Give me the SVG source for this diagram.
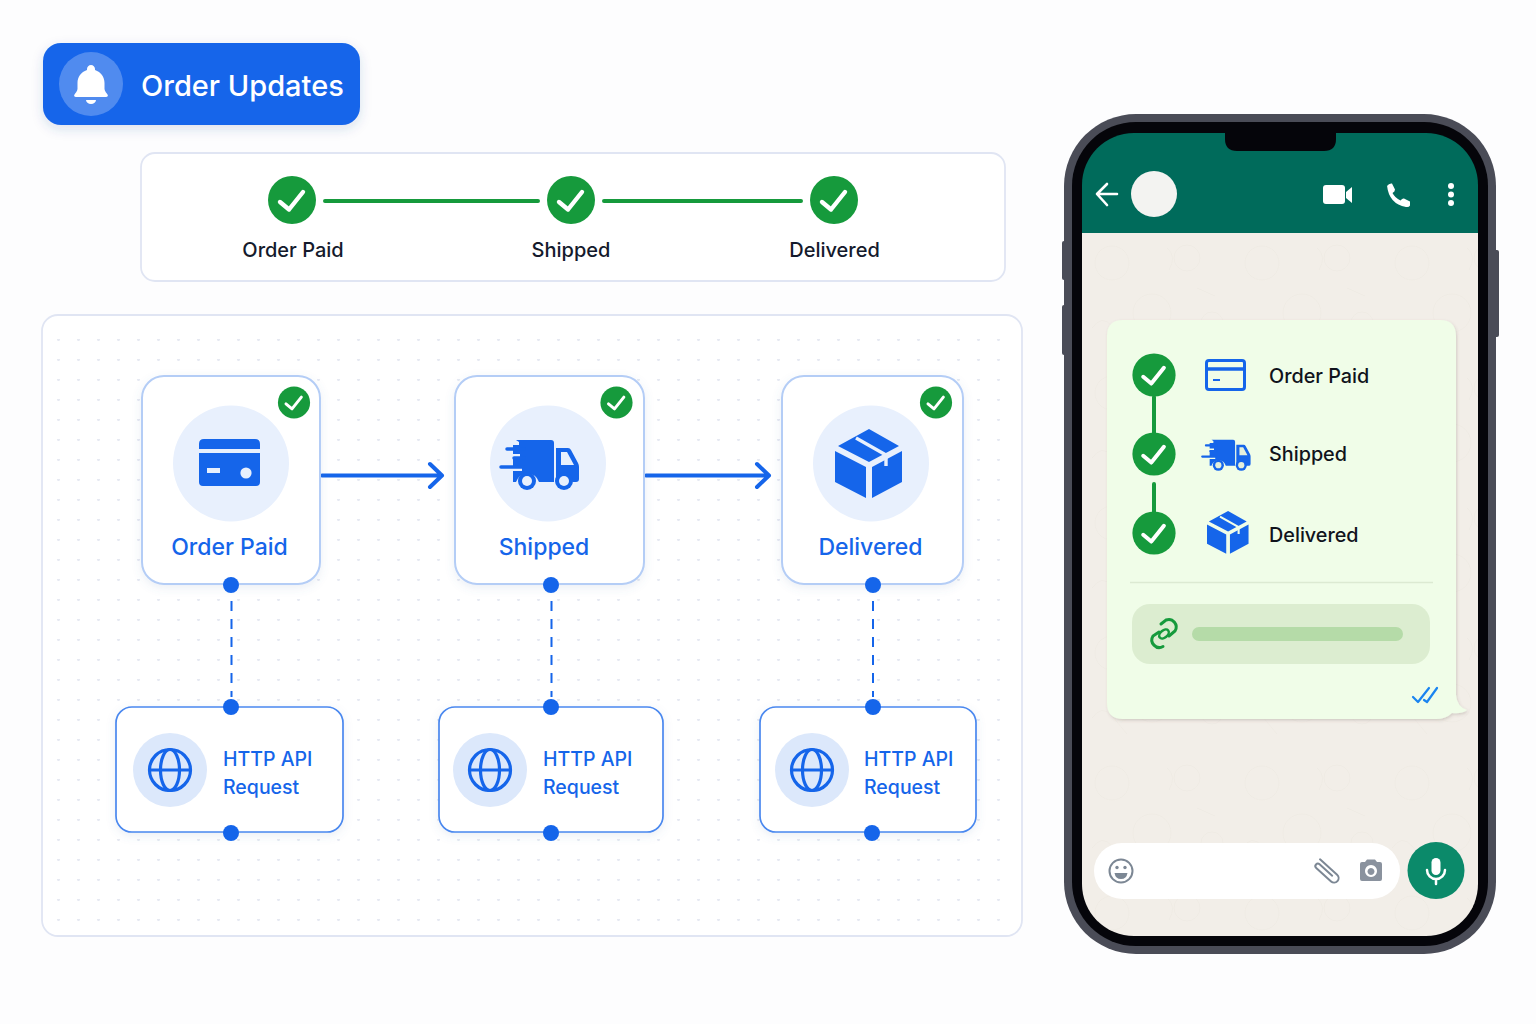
<svg xmlns="http://www.w3.org/2000/svg" width="1536" height="1024" viewBox="0 0 1536 1024">
<style>
text{font-family:"Inter","Roboto","Liberation Sans",sans-serif}
.panel{fill:#fff;stroke:#e0e5f3;stroke-width:1.800}
.card{fill:#fff;stroke:#b4cdf6;stroke-width:2;filter:url(#soft)}
.api{fill:#fff;stroke:#4a88ef;stroke-width:1.700;filter:url(#soft)}
.big{fill:#e8f0fd}
.glob{fill:#dce8fb}
.blue{fill:#1565ea}
.lb{font-size:23px;font-weight:500;fill:#1565ea;text-anchor:middle}
.ap{font-size:19.500px;font-weight:500;fill:#1565ea}
.st{font-size:20px;font-weight:500;fill:#141a2c;text-anchor:middle}
.ms{font-size:19.800px;font-weight:500;fill:#10131c}
.port{fill:#1565ea}
.solid{stroke:#1565ea;stroke-width:4;fill:none;stroke-linecap:round;stroke-linejoin:round}
.dash{stroke:#1565ea;stroke-width:2;stroke-dasharray:10 8;fill:none}
.gl{stroke:#169a3c;stroke-width:4;stroke-linecap:round;fill:none}
.gi{fill:none;stroke:#7c8794;stroke-width:2;stroke-linecap:round;stroke-linejoin:round}
</style>
<defs>
<filter id="soft" x="-10%" y="-10%" width="120%" height="125%"><feDropShadow dx="0" dy="3" stdDeviation="5" flood-color="#5a78b0" flood-opacity=".12"/></filter>
<filter id="hd" x="-10%" y="-20%" width="120%" height="150%"><feDropShadow dx="0" dy="4" stdDeviation="6" flood-color="#2a4a90" flood-opacity=".16"/></filter>
<filter id="bub" x="-5%" y="-5%" width="110%" height="110%"><feDropShadow dx="1" dy="1.500" stdDeviation="1.500" flood-color="#5a5040" flood-opacity=".22"/></filter>
<pattern id="dots" x="18" y="19" width="20" height="20" patternUnits="userSpaceOnUse"><circle cx="0.5" cy="0.5" r="1.500" fill="#e6e9f2"/><circle cx="20.5" cy="0.5" r="1.500" fill="#e6e9f2"/></pattern>
<pattern id="wall" x="1082" y="233" width="150" height="130" patternUnits="userSpaceOnUse"><g fill="none" stroke="#efebe4" stroke-width="1"><circle cx="30" cy="30" r="17"/><circle cx="105" cy="25" r="13"/><circle cx="70" cy="80" r="19"/><circle cx="130" cy="90" r="11"/><path d="M10 95q10-14 20-2t15 18M85 15q10 8 2 22M115 55l18 8"/></g></pattern>
<g id="check"><circle r="24" fill="#169a3c"/><path d="M-12 2-3 9.500 11-8" fill="none" stroke="#fff" stroke-width="4.400" stroke-linecap="round" stroke-linejoin="round"/></g>
<g id="card-ic"><path class="blue" d="M199 449v-5q0-5 5-5h51q5 0 5 5v5zM199 453h61v29q0 4-4 4h-53q-4 0-4-4z"/><rect x="207" y="468" width="13" height="5" fill="#e8f0fd"/><circle cx="246" cy="473" r="5.600" fill="#e8f0fd"/></g>
<g id="truck"><path class="blue" d="M516 440h35q3 0 3 3v39h-15a12 12 0 0 0-23 0h-3v-11h9v-4h-9v-9h7v-4h-7v-9h6v-3z"/><path class="blue" d="M556 448h12q2 0 3 2l7 13q1 2 1 4v12q0 3-3 3h-3a12 12 0 0 0-17 0z"/><path d="M561 452h6l7 13h-13z" fill="currentColor"/><circle cx="527" cy="481" r="9" fill="#1565ea"/><circle cx="564" cy="481" r="9" fill="#1565ea"/><circle cx="527" cy="481" r="5" fill="currentColor"/><circle cx="564" cy="481" r="5" fill="currentColor"/><path d="M507 449h17M514 458h10M501 467h22" stroke="#1565ea" stroke-width="3.500" stroke-linecap="round"/></g>
<g id="box"><path class="blue" d="M869 429 899 446 869 462 838 446zM835 451 866 467V498L835 482zM872 467 902 451V482L872 498z"/><path d="M856 438 886 455V466" fill="none" stroke="currentColor" stroke-width="3.400"/></g>
<g id="globe" fill="none" stroke="#1565ea" stroke-width="3.200"><circle r="20.500"/><ellipse rx="9.500" ry="20.500"/><path d="M-20.500 0H20.500"/></g>
</defs>
<rect width="1536" height="1024" fill="#fdfdfe"/>

<g id="header"><rect x="43" y="43" width="317" height="82" rx="18" fill="#1565ea" filter="url(#hd)"/><circle cx="91" cy="84" r="32" fill="#fff" opacity=".25"/><path fill="#fff" d="M91 65c-2.200 0-4 1.800-4 4v1c-6 2-9.500 7-9.500 13v6c0 2-2.500 4.500-3 5.500-1 1.500 0 2.500 1.500 2.500h30c1.500 0 2.500-1 1.500-2.500-.5-1-3-3.500-3-5.500v-6c0-6-3.500-11-9.500-13v-1c0-2.200-1.800-4-4-4z"/><path fill="#fff" d="M86 100h10a5 4 0 0 1-10 0z"/><text x="141" y="96" font-size="29" font-weight="500" fill="#fff">Order Updates</text></g>

<g id="status-strip"><rect class="panel" x="141" y="153" width="864" height="128" rx="14"/>
<text class="st" x="293" y="257">Order Paid</text><text class="st" x="571" y="257">Shipped</text><text class="st" x="834.500" y="257">Delivered</text>
<use href="#check" x="292" y="200"/><use href="#check" x="571" y="200"/><use href="#check" x="834" y="200"/>
<path class="gl" d="M325 201H538M604 201H801"/></g>

<g id="flow-panel"><rect class="panel" x="42" y="315" width="980" height="621" rx="16"/><rect x="52" y="328" width="958" height="596" fill="url(#dots)"/></g>

<g id="connectors"><path class="solid" d="M322 475.500H441M430 464 442 475.500 430 487M646 475.500H768M757 464 769 475.500 757 487"/><path class="dash" d="M231.500 601V697M551.500 601V697M873 601V697"/></g>

<g id="node-order-paid" style="color:#e8f0fd"><rect class="card" x="142" y="376" width="178" height="208" rx="22"/><circle class="big" cx="231" cy="463.500" r="58"/><use href="#card-ic"/><use href="#check" transform="translate(294 402.500) scale(.67)"/><text class="lb" x="229.500" y="555">Order Paid</text><circle class="port" cx="231" cy="585" r="8"/></g>
<g id="node-shipped" style="color:#e8f0fd"><rect class="card" x="455" y="376" width="189" height="208" rx="22"/><circle class="big" cx="548" cy="463.500" r="58"/><use href="#truck"/><use href="#check" transform="translate(616.500 402.500) scale(.67)"/><text class="lb" x="544" y="555">Shipped</text><circle class="port" cx="551" cy="585" r="8"/></g>
<g id="node-delivered" style="color:#e8f0fd"><rect class="card" x="782" y="376" width="181" height="208" rx="22"/><circle class="big" cx="871" cy="463.500" r="58"/><use href="#box"/><use href="#check" transform="translate(936 402.500) scale(.67)"/><text class="lb" x="870.500" y="555">Delivered</text><circle class="port" cx="873" cy="585" r="8"/></g>

<g id="api-1"><rect class="api" x="116" y="707" width="227" height="125" rx="16"/><circle class="glob" cx="170" cy="770" r="37"/><use href="#globe" x="170" y="770"/><text class="ap" x="223" y="765.500">HTTP API</text><text class="ap" x="223" y="793.500">Request</text><circle class="port" cx="231" cy="707" r="8"/><circle class="port" cx="231" cy="833" r="8"/></g>
<g id="api-2"><rect class="api" x="439" y="707" width="224" height="125" rx="16"/><circle class="glob" cx="490" cy="770" r="37"/><use href="#globe" x="490" y="770"/><text class="ap" x="543" y="765.500">HTTP API</text><text class="ap" x="543" y="793.500">Request</text><circle class="port" cx="551" cy="707" r="8"/><circle class="port" cx="551" cy="833" r="8"/></g>
<g id="api-3"><rect class="api" x="760" y="707" width="216" height="125" rx="16"/><circle class="glob" cx="812" cy="770" r="37"/><use href="#globe" x="812" y="770"/><text class="ap" x="864" y="765.500">HTTP API</text><text class="ap" x="864" y="793.500">Request</text><circle class="port" cx="873" cy="707" r="8"/><circle class="port" cx="872" cy="833" r="8"/></g>

<g id="phone">
<rect x="1062" y="241" width="5" height="39" rx="2" fill="#4a4c57"/><rect x="1062" y="305" width="5" height="50" rx="2" fill="#4a4c57"/><rect x="1494" y="250" width="5" height="87" rx="2" fill="#4a4c57"/>
<rect x="1064" y="114" width="432" height="840" rx="72" fill="#4a4c57"/><rect x="1072" y="122" width="416" height="824" rx="64" fill="#05050a"/>
<clipPath id="scr"><rect x="1082" y="133" width="396" height="803" rx="52"/></clipPath>
<g clip-path="url(#scr)"><rect x="1082" y="233" width="396" height="703" fill="#f2eee8"/><rect x="1082" y="233" width="396" height="703" fill="url(#wall)"/><rect x="1082" y="133" width="396" height="100" fill="#006b5b"/></g>
<path d="M1225 133H1336V139Q1336 151 1324 151H1237Q1225 151 1225 139z" fill="#05050a"/>
<path d="M1098 194H1117M1107 184 1097 194 1107 205" fill="none" stroke="#fff" stroke-width="2.600" stroke-linecap="round" stroke-linejoin="round"/>
<circle cx="1154" cy="194" r="23" fill="#f3f3f1"/>
<rect x="1323" y="185" width="22" height="19" rx="3" fill="#fff"/><path d="M1346 192 1352 187V203L1346 198z" fill="#fff"/>
<path d="M1387 186q2-3 5-2.500l3 6q0 2-2.500 3.500 2.500 5 8 7.500 2-2.500 3.500-2l6 3v4q-1 2-4 1.500-17-3-19-21.500z" fill="#fff"/>
<circle cx="1451" cy="186" r="3" fill="#fff"/><circle cx="1451" cy="194.500" r="3" fill="#fff"/><circle cx="1451" cy="203" r="3" fill="#fff"/>
</g>

<g id="bubble">
<path filter="url(#bub)" fill="#f0fde8" d="M1123 320H1440Q1456 320 1456 336V695Q1457 707 1467 710 1462 714 1452 713 1446 719 1436 719H1123Q1107 719 1107 703V336Q1107 320 1123 320z"/>
<path class="gl" d="M1154 397V434M1154 484V512"/>
<use href="#check" transform="translate(1154 375) scale(.9)"/><use href="#check" transform="translate(1154 454) scale(.9)"/><use href="#check" transform="translate(1154 533) scale(.9)"/>
<g style="color:#e4efdc"><rect x="1206.500" y="360.500" width="38" height="29" rx="2.500" fill="none" stroke="#1565ea" stroke-width="3"/><path d="M1206 369H1245" stroke="#1565ea" stroke-width="3.500"/><path d="M1213 380H1220" stroke="#1565ea" stroke-width="2"/>
<use href="#truck" transform="translate(891.600 167) scale(.62)"/><use href="#box" style="color:#f0fde8" transform="translate(689.300 245) scale(.62)"/></g>
<text class="ms" x="1269" y="383">Order Paid</text><text class="ms" x="1269" y="461">Shipped</text><text class="ms" x="1269" y="542">Delivered</text>
<path d="M1130 582.500H1433" stroke="#dcead2" stroke-width="1.500"/>
<rect x="1132" y="604" width="298" height="60" rx="18" fill="#dcedd0"/><rect x="1192" y="627" width="211" height="14" rx="7" fill="#b5dba8"/>
<g fill="none" stroke="#169a3c" stroke-width="3" stroke-linecap="round"><path d="M1159 632 1153 636A7.500 7.500 0 0 0 1163 646.500"/><path d="M1169 636 1175 631A7.500 7.500 0 0 0 1166 620L1161 624"/><ellipse cx="1164" cy="634" rx="5.500" ry="3.500" transform="rotate(-40 1164 634)" stroke-width="2.500"/></g>
<path d="M1413 697 1418 702 1429 688M1424 700 1427 702 1437 688" fill="none" stroke="#1a84f0" stroke-width="2.200" stroke-linecap="round" stroke-linejoin="round"/>
</g>

<g id="input-bar">
<rect x="1094" y="843" width="306" height="56" rx="28" fill="#fff"/>
<circle class="gi" cx="1121" cy="871" r="11.500"/><circle cx="1117" cy="867.500" r="1.700" fill="#7c8794"/><circle cx="1125" cy="867.500" r="1.700" fill="#7c8794"/><path d="M1114.500 873H1127.500Q1126.500 879 1121 879 1115.500 879 1114.500 873z" fill="#7c8794"/>
<path class="gi" transform="translate(1327 871) rotate(42)" d="M-13-4H10a4.500 4.500 0 0 1 0 9H-10a2.500 2.500 0 0 1 0-5H7"/>
<path fill="#8a929e" fill-rule="evenodd" d="M1362 862h3l2-2.500h8l2 2.500h3q2 0 2 2v15q0 2-2 2h-18q-2 0-2-2v-15q0-2 2-2zM1371 865a6 6 0 1 0 .01 0zM1371 868a3.500 3.500 0 1 1-.01 0z"/>
<circle cx="1436" cy="870.500" r="28.500" fill="#0b8a6a"/><rect x="1431.500" y="858" width="9" height="17" rx="4.500" fill="#fff"/><path d="M1427 870a9 9 0 0 0 18 0M1436 879V884" fill="none" stroke="#fff" stroke-width="2.500" stroke-linecap="round"/>
</g>
</svg>
